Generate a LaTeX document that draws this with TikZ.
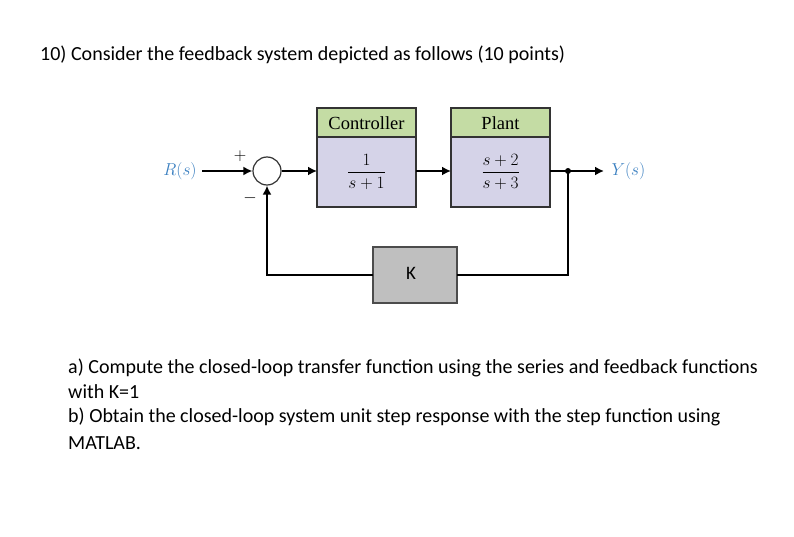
\documentclass[tikz,border=0pt]{standalone}
\usepackage{fontspec}
\setmainfont{Carlito}
\newfontfamily\serifb{Liberation Serif}
\usetikzlibrary{arrows.meta}
\definecolor{hdr}{HTML}{C4DCA4}
\definecolor{bdy}{HTML}{D5D3E8}
\definecolor{kgr}{HTML}{BFBFBF}
\definecolor{lbl}{HTML}{3A7FC0}
\begin{document}
\begin{tikzpicture}[x=1pt,y=-1pt,
 blk/.style={draw=black!80,line width=1.2pt},
 sig/.style={line width=2.4pt,-{Latex[length=9pt,width=9pt]}},
 ln/.style={line width=2.4pt},
 txt/.style={anchor=west,inner sep=0pt,font=\fontsize{20}{24}\selectfont}]
\useasboundingbox (0,0) rectangle (794,537);
\node[txt] (title) at (40,55) {10) Consider the feedback system depicted as follows (10 points)};
% blocks
\filldraw[blk,fill=hdr] (317,108) rectangle (416,137);
\filldraw[blk,fill=bdy] (317,137) rectangle (416,207);
\filldraw[blk,fill=hdr] (451,108) rectangle (550,137);
\filldraw[blk,fill=bdy] (451,137) rectangle (550,207);
\node[font=\serifb\fontsize{18.5}{22}\selectfont] (ch) at (366.5,123) {Controller};
\node[font=\serifb\fontsize{18.5}{22}\selectfont] (ph) at (500.5,123) {Plant};
\node[font=\fontsize{18.5}{22}\selectfont] (c) at (366.5,172) {$\displaystyle\frac{1}{s+1}$};
\node[font=\fontsize{18.5}{22}\selectfont] (p) at (500.5,172) {$\displaystyle\frac{s+2}{s+3}$};
\coordinate (cin) at (317,171); \coordinate (cout) at (416,171);
\coordinate (pin) at (451,171); \coordinate (pout) at (550,171);
\node[draw=black!80,line width=1.2pt,fill=white,circle,minimum size=28pt,inner sep=0pt] (sum) at (267,171) {};
\node[text=lbl,font=\fontsize{18.5}{22}\selectfont] (R) at (180,171) {$R(s)$};
\node[text=lbl,font=\fontsize{18.5}{22}\selectfont,anchor=west] (Y) at (608,171) {$Y(s)$};
\node[font=\fontsize{16}{18}\selectfont] (plus) at (240,156) {$+$};
\node[font=\fontsize{16}{18}\selectfont] (minus) at (250,198) {$-$};
\filldraw[draw=black!70,line width=1.2pt,fill=kgr] (373,247) rectangle (457,303);
\node[font=\fontsize{19}{22}\selectfont] (K) at (411,273) {K};
\coordinate (kl) at (373,275); \coordinate (kr) at (457,275);
\coordinate (j) at (568,171);
\coordinate (Rend) at (202,171);
\coordinate (Yend) at (604,171);
\draw[sig] (Rend) -- (sum.west);
\draw[sig] (sum.east) -- (cin);
\draw[sig] (cout) -- (pin);
\draw[sig] (pout) -- (Yend);
\fill (j) circle (3pt);
\draw[ln] (j) |- (kr);
\draw[sig] (kl) -| (sum.south);
\node[txt] (a) at (68,368) {a) Compute the closed-loop transfer function using the series and feedback functions};
\node[txt] (a2) at (68,392) {with K=1};
\node[txt] (b) at (68,417) {b) Obtain the closed-loop system unit step response with the step function using};
\node[txt] (b2) at (68,443) {MATLAB.};
\end{tikzpicture}
\end{document}
